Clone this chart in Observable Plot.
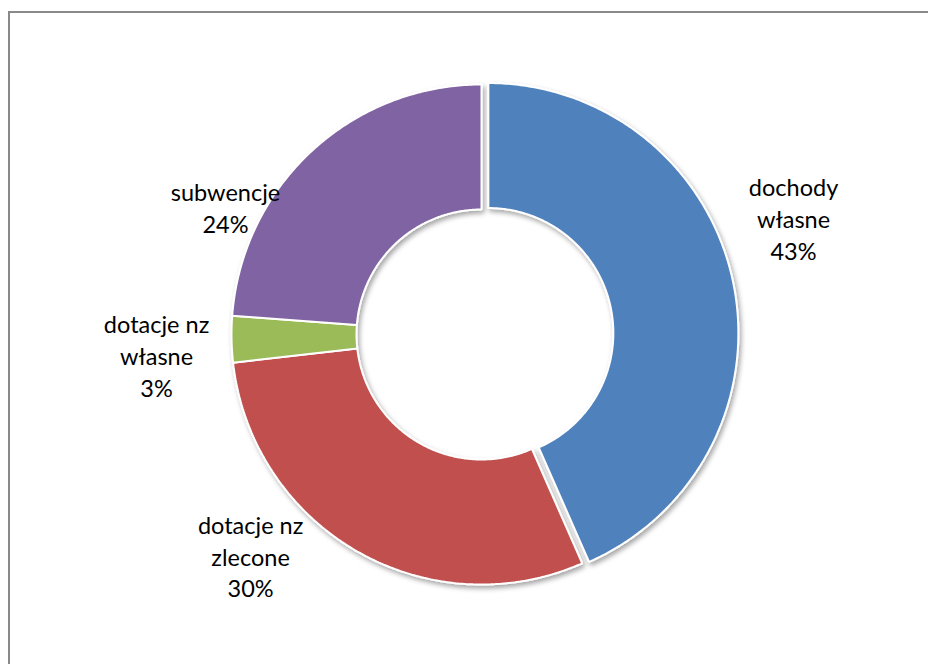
<!DOCTYPE html>
<html>
<head>
<meta charset="utf-8">
<script src="https://cdn.jsdelivr.net/npm/d3@7"></script>
<script src="https://cdn.jsdelivr.net/npm/@observablehq/plot@0.6"></script>
<style>
  html, body { margin: 0; padding: 0; background: #fff; overflow: hidden; width: 928px; height: 664px; }
  #wrap { position: relative; width: 928px; height: 664px; overflow: hidden; }
  #hline { position: absolute; left: 8px; top: 11px; width: 920px; height: 2px; background: #898989; }
  #vline { position: absolute; left: 8px; top: 11px; width: 2px; height: 653px; background: #898989; }
  #chart { position: absolute; left: 0; top: 0; }
</style>
</head>
<body>
<div id="wrap"><div id="hline"></div><div id="vline"></div><div id="chart"></div></div>
<script>
// ---- data ----
const categories = ["dochody własne", "dotacje nz zlecone", "dotacje nz własne", "subwencje"];
const labelLines = ["dochody\nwłasne", "dotacje nz\nzlecone", "dotacje nz\nwłasne", "subwencje"];
const values = [43.4, 29.8, 3.0, 23.8];
const colors = ["#4F81BD", "#C0504D", "#9BBB59", "#8064A2"];

// ---- layout ----
const W = 928, H = 664;
const cx = 481, cy = 334, R = 250;   // pixel center & outer radius
const inner = 0.5;                   // hole size (fraction of outer radius)
const explode = [0.028, 0, 0, 0];    // exploded slice offset (fraction of radius)
const labelR = 1.3;
const labelNudge = [[-6, -50], [-69, -61], [0, 14], [-35, 111]];

const total = d3.sum(values);
const pie = d3.pie().sort(null).value(d => d)(values);

const rows = [];
pie.forEach((p, i) => {
  const mid = (p.startAngle + p.endAngle) / 2;
  const ox = explode[i] * Math.sin(mid), oy = explode[i] * Math.cos(mid);
  const n = Math.max(8, Math.ceil((p.endAngle - p.startAngle) / 0.01));
  for (let k = 0; k <= n; k++) {
    const a = p.startAngle + (p.endAngle - p.startAngle) * k / n;
    rows.push({cat: categories[i], x: ox + Math.sin(a), y: oy + Math.cos(a)});
  }
  for (let k = n; k >= 0; k--) {
    const a = p.startAngle + (p.endAngle - p.startAngle) * k / n;
    rows.push({cat: categories[i], x: ox + inner * Math.sin(a), y: oy + inner * Math.cos(a)});
  }
});

const labels = pie.map((p, i) => {
  const mid = (p.startAngle + p.endAngle) / 2;
  return {
    cat: categories[i],
    x: labelR * Math.sin(mid),
    y: labelR * Math.cos(mid),
    dx: labelNudge[i][0], dy: labelNudge[i][1],
    text: labelLines[i] + "\n" + Math.round(values[i] / total * 100) + "%"
  };
});

const chart = Plot.plot({
  width: W, height: H,
  margin: 0,
  style: {background: "transparent", fontFamily: "Lato, 'Open Sans', sans-serif"},
  x: {domain: [-1, 1], range: [cx - R, cx + R], axis: null},
  y: {domain: [-1, 1], range: [cy + R, cy - R], axis: null},
  color: {domain: categories, range: colors},
  marks: [
    Plot.line(rows, {x: "x", y: "y", z: "cat", fill: "cat", stroke: "white", strokeWidth: 2,
                     curve: "linear-closed", strokeLinejoin: "miter"}),
    ...labels.map(l => Plot.text([l], {x: "x", y: "y", text: "text", dx: l.dx, dy: l.dy,
                     fill: "#000", fontSize: 23.5, lineHeight: 1.36, lineAnchor: "middle", textAnchor: "middle"}))
  ]
});

// drop shadow for the ring
const svg = d3.select(chart);
const defs = svg.insert("defs", ":first-child");
const f = defs.append("filter").attr("id", "shadow").attr("x", "-10%").attr("y", "-10%").attr("width", "120%").attr("height", "120%");
f.append("feDropShadow").attr("dx", 2).attr("dy", 3).attr("stdDeviation", 2.5)
  .attr("flood-color", "#000").attr("flood-opacity", 0.35);
svg.select('g[aria-label="line"]').attr("filter", "url(#shadow)");

document.getElementById("chart").appendChild(chart);
</script>
</body>
</html>
